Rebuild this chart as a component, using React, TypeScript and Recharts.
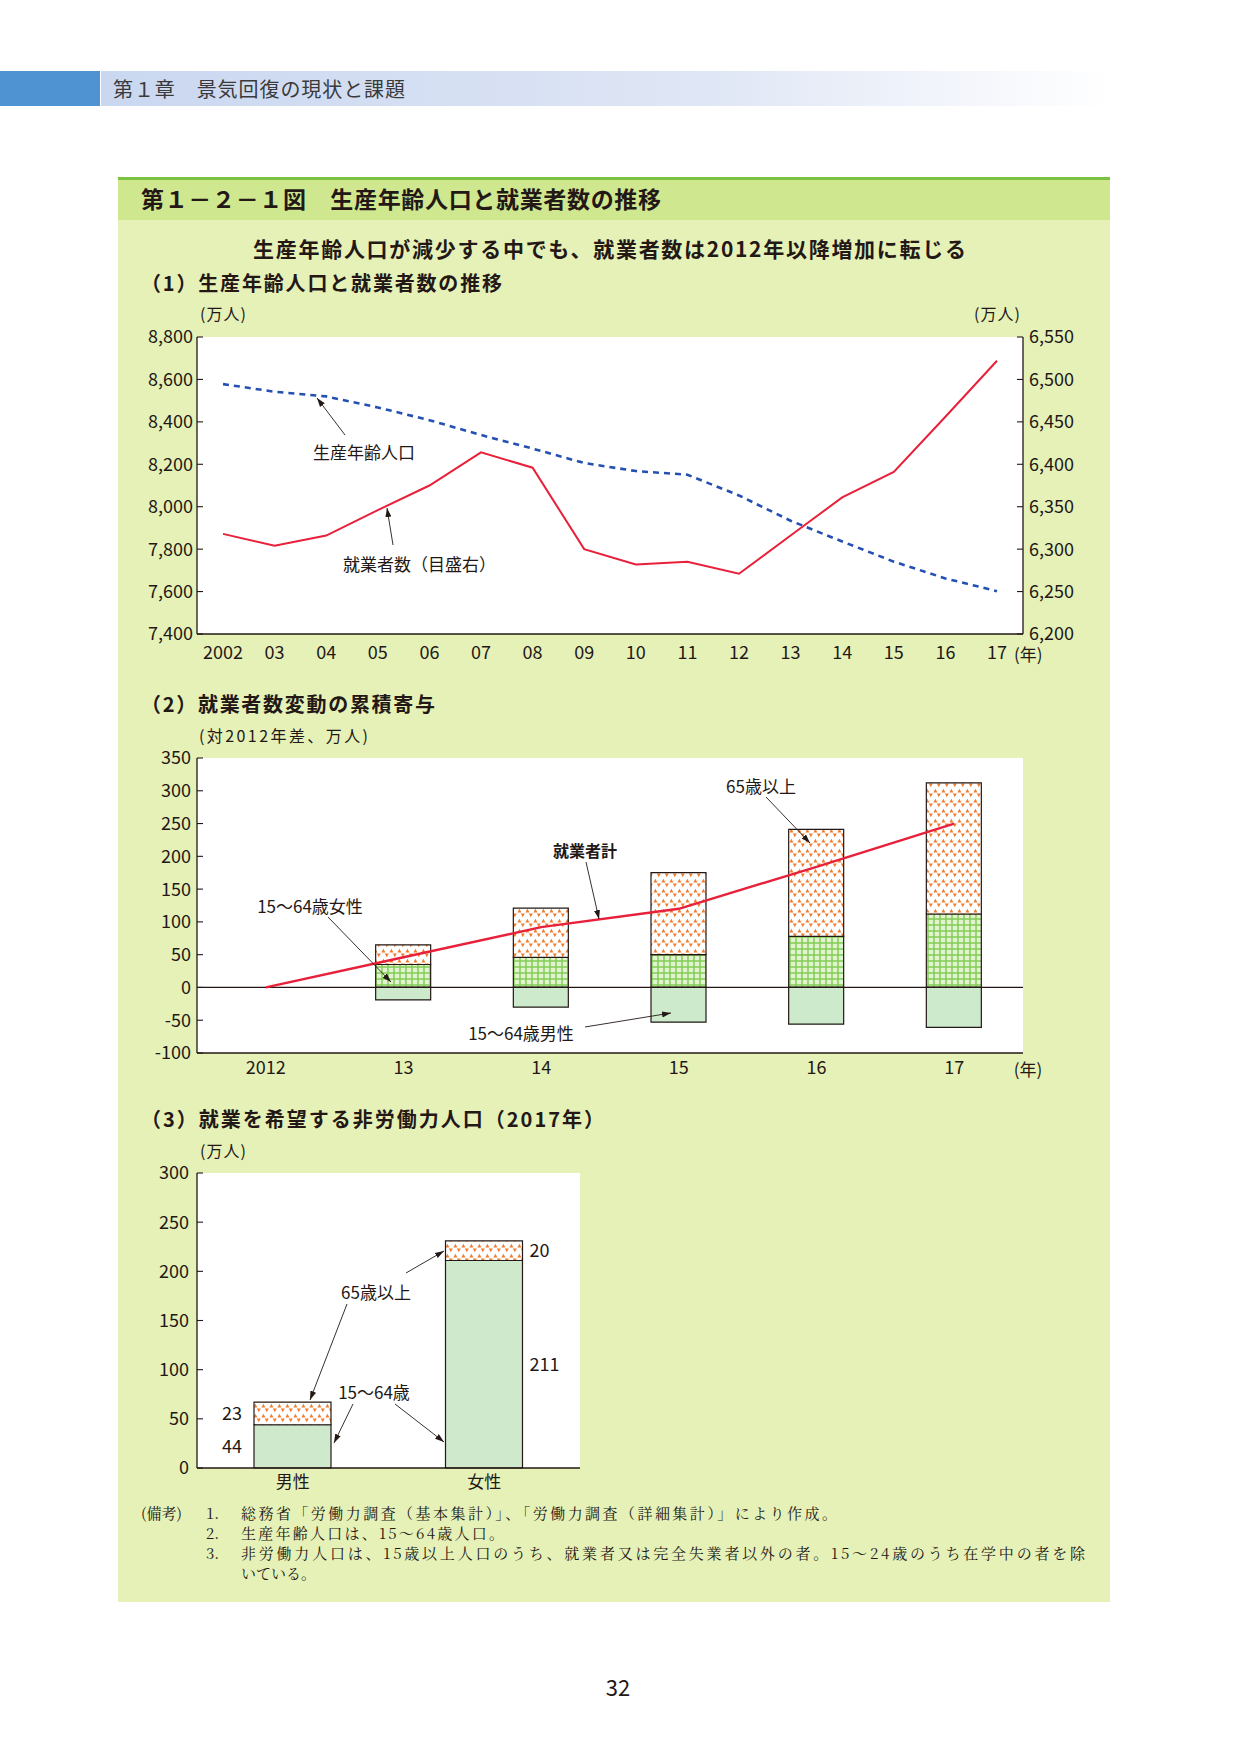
import React from "react";
import {
  LineChart,
  Line,
  XAxis,
  YAxis,
  CartesianGrid,
  ComposedChart,
  Bar,
  BarChart,
  ReferenceLine,
  LabelList,
} from "recharts";

// (1) 生産年齢人口と就業者数の推移
const years = ["2002", "03", "04", "05", "06", "07", "08", "09", "10", "11", "12", "13", "14", "15", "16", "17"];
const workingAgePop = [8578, 8542, 8520, 8468, 8408, 8338, 8274, 8206, 8168, 8151, 8053, 7934, 7836, 7741, 7662, 7602];
const employed = [6318, 6304, 6316, 6346, 6375, 6414, 6396, 6300, 6282, 6285, 6271, 6316, 6361, 6391, 6456, 6522];
const leftTicks = [7400, 7600, 7800, 8000, 8200, 8400, 8600, 8800];
const rightTicks = [6200, 6250, 6300, 6350, 6400, 6450, 6500, 6550];

// (2) 就業者数変動の累積寄与（対2012年差）
const contribYears = ["2012", "13", "14", "15", "16", "17"];
const female1564 = [0, 35, 46, 50, 78, 112];
const over65 = [0, 30, 75, 125, 163, 200];
const male1564 = [0, -19, -30, -53, -56, -61];
const totalEmployed = [0, 46, 92, 120, 184, 250];
const contribTicks = [-100, -50, 0, 50, 100, 150, 200, 250, 300, 350];

// (3) 就業を希望する非労働力人口（2017年）
const sexes = ["男性", "女性"];
const want1564 = [44, 211];
const want65 = [23, 20];
const wantTicks = [0, 50, 100, 150, 200, 250, 300];

const font = "'Noto Sans CJK JP', 'Noto Sans', sans-serif";
const serif = "'Noto Serif CJK JP', 'Noto Sans CJK JP', serif";
const ink = "#231815";

const chart1Data = years.map((y, i) => ({ year: y, pop: workingAgePop[i], emp: employed[i] }));
const chart2Data = contribYears.map((y, i) => ({
  year: y,
  female: female1564[i],
  old: over65[i],
  male: male1564[i],
  total: totalEmployed[i],
}));
const chart3Data = sexes.map((s, i) => ({ sex: s, young: want1564[i], old: want65[i] }));

const comma = (v: number) => v.toLocaleString("en-US");

// y tick with a short tick mark drawn inside the plot
const inTick = (side: "left" | "right", margin: number, fmt?: (v: number) => string) => (props: any) => {
  const { x, y, payload } = props;
  const ax = side === "left" ? x + margin : x - margin;
  const ix = side === "left" ? ax + 6 : ax - 6;
  return (
    <g>
      <line x1={ax} y1={y} x2={ix} y2={y} stroke={ink} strokeWidth={1.1} />
      <text
        x={x}
        y={y}
        dy="0.36em"
        textAnchor={side === "left" ? "end" : "start"}
        fontSize={18}
        fill={ink}
        fontFamily={font}
      >
        {fmt ? fmt(payload.value) : payload.value}
      </text>
    </g>
  );
};

const xTick = { fontSize: 18, fill: ink, fontFamily: font };
const frame = { stroke: ink, strokeWidth: 1.3 };

const Arrow = ({ x1, y1, x2, y2 }: { x1: number; y1: number; x2: number; y2: number }) => (
  <line x1={x1} y1={y1} x2={x2} y2={y2} stroke={ink} strokeWidth={0.9} markerEnd="url(#ah)" />
);

const T = (p: any) => (
  <text
    dominantBaseline="central"
    fill={ink}
    fontFamily={font}
    fontSize={17}
    {...p}
  />
);

const sideLabel = (props: any) => {
  const vb = props.viewBox ?? props;
  const left = props.index === 0;
  return (
    <text
      x={left ? vb.x - 12 : vb.x + vb.width + 7}
      y={vb.y + vb.height / 2}
      dy="0.36em"
      textAnchor={left ? "end" : "start"}
      fontSize={18}
      fill={ink}
      fontFamily={font}
    >
      {props.value}
    </text>
  );
};

export default function App() {
  return (
    <div style={{ position: "absolute", left: 0, top: 0, width: 1241, height: 1754, background: "#fff", fontFamily: font }}>
      <svg width={0} height={0} style={{ position: "absolute" }}>
        <defs>
          <pattern id="triOrange" width={8} height={10} patternUnits="userSpaceOnUse">
            <rect width={8} height={10} fill="#fff" />
            <polygon points="0.4,4.4 2.4,0.8 4.4,4.4" fill="#ee7d2f" />
            <polygon points="3.8,5.6 7.8,5.6 5.8,9.2" fill="#ee7d2f" />
          </pattern>
          <pattern id="gridGreen" width={6} height={6} patternUnits="userSpaceOnUse">
            <rect width={6} height={6} fill="#e2f4cf" />
            <path d="M0 1 H6 M1 0 V6" stroke="#84cd58" strokeWidth={1.5} />
          </pattern>
          <marker id="ah" markerWidth={9} markerHeight={8} refX={9} refY={4} orient="auto" markerUnits="userSpaceOnUse">
            <path d="M0,1 L9,4 L0,7 z" fill={ink} />
          </marker>
        </defs>
      </svg>

      {/* page header band */}
      <div style={{ position: "absolute", left: 0, top: 71, width: 100, height: 35, background: "#4f93d3" }} />
      <div
        style={{
          position: "absolute",
          left: 101,
          top: 71,
          width: 1010,
          height: 35,
          background: "linear-gradient(90deg, #c9d7f0 0%, #dfe6f5 60%, #ffffff 100%)",
        }}
      />

      {/* green panel */}
      <div style={{ position: "absolute", left: 118, top: 177, width: 992, height: 1425, background: "#e6f1b8" }} />
      <div style={{ position: "absolute", left: 118, top: 177, width: 992, height: 43, background: "#cfe78f" }} />
      <div style={{ position: "absolute", left: 118, top: 177, width: 992, height: 3, background: "#7cc242" }} />

      {/* (1) */}
      <div style={{ position: "absolute", left: 117, top: 317 }}>
        <LineChart width={986} height={347} data={chart1Data} margin={{ top: 20, right: 0, bottom: 0, left: 0 }}>
          <CartesianGrid horizontal={false} vertical={false} fill="#fff" yAxisId="left" />
          <XAxis
            dataKey="year"
            interval={0}
            padding={{ left: 26, right: 26 }}
            tickSize={0}
            tickMargin={12}
            height={30}
            tick={xTick}
            axisLine={frame}
            tickLine={false}
          />
          <XAxis xAxisId="top" orientation="top" dataKey="year" height={0} tick={false} tickLine={false} axisLine={frame} />
          <YAxis
            yAxisId="left"
            width={80}
            domain={[7400, 8800]}
            ticks={leftTicks}
            interval={0}
            tickSize={0}
            tickMargin={4}
            tickLine={false}
            axisLine={frame}
            tick={inTick("left", 4, comma)}
          />
          <YAxis
            yAxisId="right"
            orientation="right"
            width={80}
            domain={[6200, 6550]}
            ticks={rightTicks}
            interval={0}
            tickSize={0}
            tickMargin={6}
            tickLine={false}
            axisLine={frame}
            tick={inTick("right", 6, comma)}
          />
          <Line
            yAxisId="left"
            dataKey="pop"
            stroke="#2450b4"
            strokeWidth={2.6}
            strokeDasharray="6 5"
            dot={false}
            isAnimationActive={false}
          />
          <Line yAxisId="right" dataKey="emp" stroke="#e8203a" strokeWidth={2} dot={false} isAnimationActive={false} />
        </LineChart>
      </div>

      {/* (2) */}
      <div style={{ position: "absolute", left: 117, top: 738 }}>
        <ComposedChart
          width={906}
          height={345}
          data={chart2Data}
          stackOffset="sign"
          margin={{ top: 20, right: 0, bottom: 0, left: 0 }}
        >
          <CartesianGrid horizontal={false} vertical={false} fill="#fff" />
          <XAxis dataKey="year" interval={0} tickSize={0} tickMargin={8} height={30} tick={xTick} axisLine={frame} tickLine={false} />
          <XAxis xAxisId="top" orientation="top" dataKey="year" height={0} tick={false} tickLine={false} axisLine={frame} />
          <YAxis
            width={80}
            domain={[-100, 350]}
            ticks={contribTicks}
            interval={0}
            tickSize={0}
            tickMargin={6}
            tickLine={false}
            axisLine={frame}
            tick={inTick("left", 6)}
          />
          <YAxis yAxisId="border" orientation="right" width={0} type="number" domain={[0, 1]} tick={false} tickLine={false} axisLine={frame} />
          <Bar dataKey="female" stackId="a" barSize={55} fill="url(#gridGreen)" stroke={ink} strokeWidth={1.2} isAnimationActive={false} />
          <Bar dataKey="old" stackId="a" barSize={55} fill="url(#triOrange)" stroke={ink} strokeWidth={1.2} isAnimationActive={false} />
          <Bar dataKey="male" stackId="a" barSize={55} fill="#cdebcc" stroke={ink} strokeWidth={1.2} isAnimationActive={false} />
          <ReferenceLine y={0} stroke={ink} strokeWidth={1.3} />
          <Line dataKey="total" stroke="#e8203a" strokeWidth={2.4} dot={false} isAnimationActive={false} />
        </ComposedChart>
      </div>

      {/* (3) */}
      <div style={{ position: "absolute", left: 117, top: 1153 }}>
        <BarChart width={463} height={345} data={chart3Data} margin={{ top: 20, right: 0, bottom: 0, left: 0 }}>
          <CartesianGrid horizontal={false} vertical={false} fill="#fff" />
          <XAxis dataKey="sex" interval={0} tickSize={0} tickMargin={8} height={30} tick={{ ...xTick, fontSize: 17 }} axisLine={frame} tickLine={false} />
          <XAxis xAxisId="top" orientation="top" dataKey="sex" height={0} tick={false} tickLine={false} axisLine={frame} />
          <YAxis
            width={80}
            domain={[0, 300]}
            ticks={wantTicks}
            interval={0}
            tickSize={0}
            tickMargin={8}
            tickLine={false}
            axisLine={frame}
            tick={inTick("left", 8)}
          />
          <YAxis yAxisId="border" orientation="right" width={0} type="number" domain={[0, 1]} tick={false} tickLine={false} axisLine={frame} />
          <Bar dataKey="young" stackId="a" barSize={77} fill="#cfe9cc" stroke={ink} strokeWidth={1.2} isAnimationActive={false}>
            <LabelList dataKey="young" content={sideLabel} />
          </Bar>
          <Bar dataKey="old" stackId="a" barSize={77} fill="url(#triOrange)" stroke={ink} strokeWidth={1.2} isAnimationActive={false}>
            <LabelList dataKey="old" content={sideLabel} />
          </Bar>
        </BarChart>
      </div>

      {/* texts and annotations */}
      <svg width={1241} height={1754} style={{ position: "absolute", left: 0, top: 0, pointerEvents: "none" }}>
        <T x={113} y={88} fontSize={20} fill="#3a3a3a" textLength={292}>第１章　景気回復の現状と課題</T>
        <T x={141} y={198} fontSize={23} fontWeight={700} textLength={520}>第１－２－１図　生産年齢人口と就業者数の推移</T>
        <T x={253} y={248} fontSize={21} fontWeight={700} textLength={713}>生産年齢人口が減少する中でも、就業者数は2012年以降増加に転じる</T>

        <T x={141} y={282} fontSize={20} fontWeight={700} textLength={361}>（1）生産年齢人口と就業者数の推移</T>
        <T x={200} y={313} fontSize={16} textLength={46}>(万人)</T>
        <T x={974} y={313} fontSize={16} textLength={46}>(万人)</T>
        <T x={1014} y={653} fontSize={17}>(年)</T>
        <T x={313} y={451} fontSize={17}>生産年齢人口</T>
        <Arrow x1={345} y1={435} x2={317} y2={398} />
        <T x={343} y={563} fontSize={17}>就業者数（目盛右）</T>
        <Arrow x1={393} y1={545} x2={387} y2={508} />

        <T x={141} y={703} fontSize={20} fontWeight={700} textLength={294}>（2）就業者数変動の累積寄与</T>
        <T x={199} y={735} fontSize={16} textLength={169}>(対2012年差、万人)</T>
        <T x={761} y={785} textAnchor="middle">65歳以上</T>
        <Arrow x1={766} y1={797} x2={810} y2={843} />
        <T x={585} y={850} textAnchor="middle" fontSize={16} fontWeight={700}>就業者計</T>
        <Arrow x1={586} y1={862} x2={599} y2={919} />
        <T x={310} y={905} textAnchor="middle">15～64歳女性</T>
        <Arrow x1={328} y1={917} x2={391} y2={982} />
        <T x={521} y={1032} textAnchor="middle">15～64歳男性</T>
        <Arrow x1={585} y1={1027} x2={671} y2={1013} />
        <T x={1028} y={1068} textAnchor="middle">(年)</T>

        <T x={141} y={1118} fontSize={20} fontWeight={700} textLength={463}>（3）就業を希望する非労働力人口（2017年）</T>
        <T x={200} y={1150} fontSize={16} textLength={46}>(万人)</T>
        <T x={376} y={1291} textAnchor="middle">65歳以上</T>
        <Arrow x1={406} y1={1273} x2={444} y2={1251} />
        <Arrow x1={347} y1={1304} x2={310} y2={1400} />
        <T x={374} y={1391} textAnchor="middle">15～64歳</T>
        <Arrow x1={353} y1={1404} x2={334} y2={1443} />
        <Arrow x1={395} y1={1404} x2={444} y2={1442} />

        <T x={141} y={1512} fontSize={15} fontFamily={serif}>(備考)</T>
        <T x={206} y={1512} fontSize={15} fontFamily={serif}>1.</T>
        <T x={241} y={1512} fontSize={15} fontFamily={serif} textLength={596}>総務省「労働力調査（基本集計）」、「労働力調査（詳細集計）」により作成。</T>
        <T x={206} y={1532} fontSize={15} fontFamily={serif}>2.</T>
        <T x={241} y={1532} fontSize={15} fontFamily={serif} textLength={263}>生産年齢人口は、15～64歳人口。</T>
        <T x={206} y={1552} fontSize={15} fontFamily={serif}>3.</T>
        <T x={241} y={1552} fontSize={15} fontFamily={serif} textLength={844}>非労働力人口は、15歳以上人口のうち、就業者又は完全失業者以外の者。15～24歳のうち在学中の者を除</T>
        <T x={241} y={1572} fontSize={15} fontFamily={serif}>いている。</T>

        <T x={618} y={1686} fontSize={22} textAnchor="middle">32</T>
      </svg>
    </div>
  );
}
